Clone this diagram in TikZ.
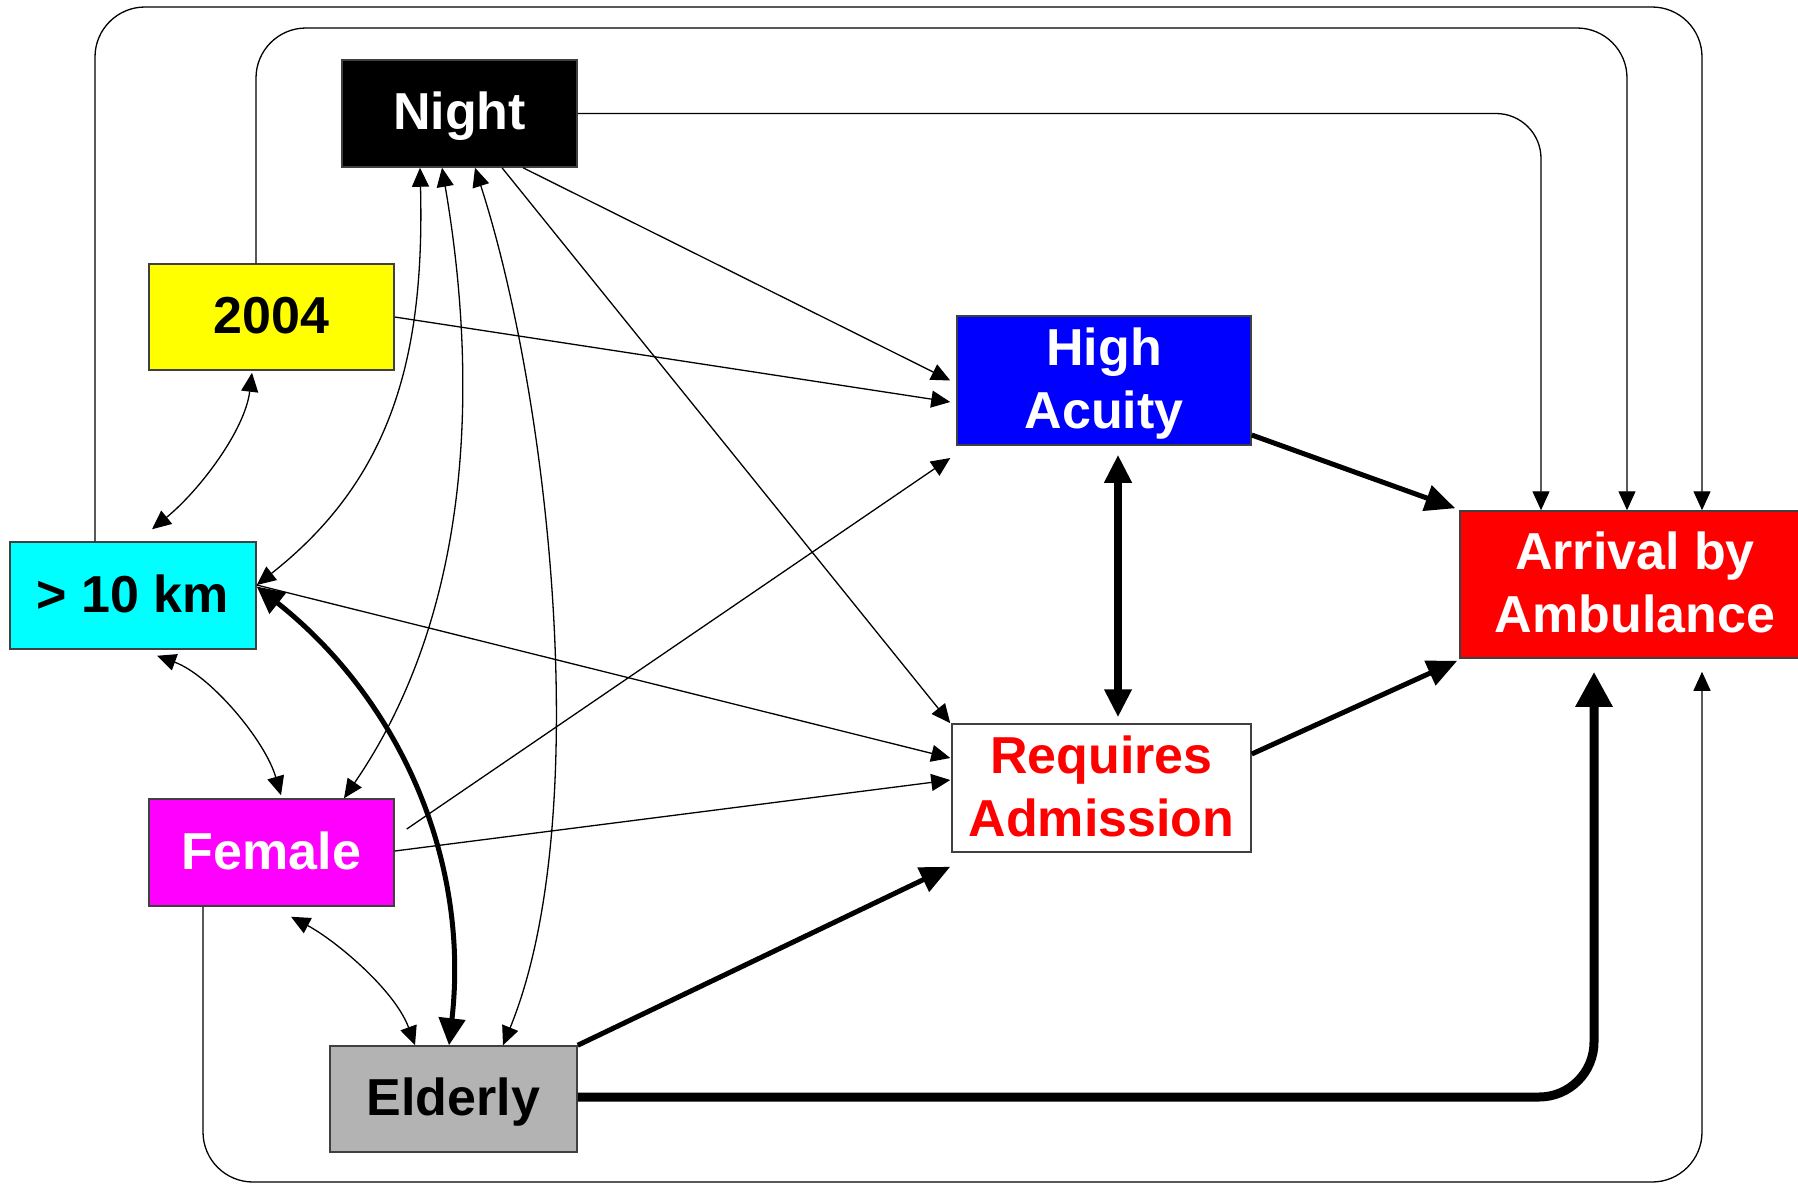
\documentclass[tikz,border=0pt]{standalone}
\usepackage{fontspec}
\setmainfont{Liberation Sans}
\usetikzlibrary{arrows.meta}
\definecolor{eldgray}{RGB}{179,179,179}
\definecolor{nyellow}{RGB}{255,255,0}
\definecolor{ncyan}{RGB}{0,255,255}
\definecolor{nmagenta}{RGB}{255,0,255}
\definecolor{nblue}{RGB}{0,0,255}
\definecolor{nred}{RGB}{255,0,0}
\newcommand\boxstrut{\rule[-11pt]{0pt}{55pt}}
\begin{document}
\begin{tikzpicture}[x=1pt,y=-1pt,
  box/.style={draw=black!75, line width=1.5pt, inner sep=0pt, align=center,
    font=\fontsize{52}{63}\selectfont\bfseries},
  thinarr/.style={line width=1.3pt, -{Triangle[length=19pt,width=17pt]}},
  thinboth/.style={line width=1.3pt, {Triangle[length=19pt,width=17pt]}-{Triangle[length=19pt,width=17pt]}},
  thickarr/.style={line width=5pt, -{Triangle[length=30pt,width=26pt]}},
  thickboth/.style={line width=5pt, {Triangle[length=27pt,width=26pt]}-{Triangle[length=27pt,width=26pt]}},
  heavyarr/.style={line width=9pt, -{Triangle[length=35pt,width=35pt]}},
  heavyboth/.style={line width=8pt, {Triangle[length=28pt,width=26pt]}-{Triangle[length=28pt,width=26pt]}},
]
\useasboundingbox[fill=white] (0,0) rectangle (1798,1184);

% nodes
\node[box, fill=black, text=white, minimum width=235pt, minimum height=107pt] (night) at (459.5,113.5) {\boxstrut Night};
\node[box, fill=nyellow, minimum width=245pt, minimum height=106pt] (y2004) at (271.5,317) {\boxstrut 2004};
\node[box, fill=ncyan, minimum width=246pt, minimum height=107pt] (km) at (133,595.5) {\boxstrut > 10 km};
\node[box, fill=nmagenta, text=white, minimum width=245pt, minimum height=107pt] (female) at (271.5,852.5) {\boxstrut Female};
\node[box, fill=eldgray, minimum width=247pt, minimum height=106pt] (elderly) at (453.5,1099) {\boxstrut Elderly};
\node[box, fill=nblue, text=white, minimum width=294pt, minimum height=129pt] (high) at (1104,380.5) {\boxstrut High\\\boxstrut Acuity};
\node[box, fill=white, text=nred, minimum width=299pt, minimum height=128pt] (req) at (1101.5,788) {\boxstrut Requires\\\boxstrut Admission};
\node[box, fill=nred, text=white, minimum width=350pt, minimum height=147pt] (arrival) at (1635,584.5) {\boxstrut Arrival by\\\boxstrut Ambulance};

% loops to arrival
\draw[thinarr, rounded corners=50pt] ([xshift=-38pt]km.north) |- (1702,7) -- ([xshift=67pt]arrival.north);
\draw[thinarr, rounded corners=50pt] ([xshift=-15.5pt]y2004.north) |- (1627,28) -- ([xshift=-8pt]arrival.north);
\draw[thinarr, rounded corners=45pt] (night.east) -| ([xshift=-94pt]arrival.north);
\draw[thinarr, rounded corners=50pt] ([xshift=-68.5pt]female.south) |- (1702,1182) -- ([xshift=67pt,yshift=-13pt]arrival.south);
\draw[heavyarr, rounded corners=55pt] ([yshift=2pt]elderly.east) -| ([xshift=-41pt,yshift=-13pt]arrival.south);

% straight connectors
\draw[thinarr] ([xshift=63.5pt]night.south) -- ([xshift=-6pt]high.west);
\draw[thinarr] ([xshift=42.5pt]night.south) -- ([xshift=-1pt]req.north west);
\draw[thinarr] (y2004.east) -- ([xshift=-6pt,yshift=-21.5pt]high.west);
\draw[thinarr] ([xshift=12pt,yshift=23.5pt]female.east) -- ([xshift=-6pt,yshift=-77.5pt]high.west);
\draw[thinarr] ([yshift=1.5pt]female.east) -- ([xshift=-1pt,yshift=8pt]req.west);
\draw[thinarr] ([yshift=10.5pt]km.east) -- ([xshift=-1pt,yshift=30pt]req.west);
\draw[thickarr] (elderly.north east) -- ([xshift=-1pt,yshift=-14pt]req.south west);
\draw[thickarr] ([yshift=-54.5pt]high.east) -- ([xshift=-4pt,yshift=2pt]arrival.north west);
\draw[thickarr] ([yshift=34pt]req.east) -- ([xshift=-2pt,yshift=-2pt]arrival.south west);
\draw[heavyboth] ([xshift=14pt,yshift=-9pt]high.south) -- ([xshift=16.5pt,yshift=6pt]req.north);

% curved two-way connectors
\draw[thinboth] ([xshift=-39.5pt]night.south) .. controls (425,360) and (390,480) .. ([yshift=10.5pt]km.east);
\draw[thinboth] ([xshift=-17.5pt]night.south) .. controls (475,360) and (480,600) .. ([xshift=72.5pt]female.north);
\draw[thinboth] ([xshift=15.5pt]night.south) .. controls (550,400) and (595,820) .. ([xshift=49.5pt]elderly.north);
\draw[thickboth] ([yshift=9pt]km.east) .. controls (400,700) and (470,860) .. ([xshift=-4.5pt]elderly.north);
\draw[thinboth] ([xshift=-19.5pt,yshift=-2pt]y2004.south) .. controls (245,430) and (200,490) .. ([xshift=19pt,yshift=12pt]km.north);
\draw[thinboth] ([xshift=24pt,yshift=-6pt]km.south) .. controls (210,675) and (265,740) .. ([xshift=9.5pt,yshift=3pt]female.north);
\draw[thinboth] ([xshift=19.5pt,yshift=-10pt]female.south) .. controls (335,940) and (395,990) .. ([xshift=-38.5pt]elderly.north);
\end{tikzpicture}
\end{document}
